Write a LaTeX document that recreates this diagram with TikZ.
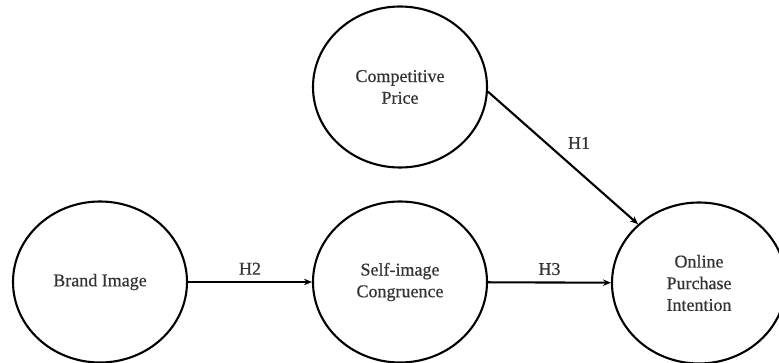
\documentclass[tikz,border=0pt]{standalone}
\usepackage{fontspec}
\newfontfamily\lblfont{Liberation Serif}[FakeBold=0.5]
\usetikzlibrary{shapes.geometric,arrows.meta}
\begin{document}
\begin{tikzpicture}[x=1pt,y=-1pt,
  construct/.style={ellipse,draw,line width=2.1pt,minimum width=174pt,minimum height=161pt,inner sep=0pt,align=center,font=\lblfont\fontsize{18}{21.7}\selectfont,text=black!80},
  link/.style={line width=2.1pt,-{Stealth[length=8pt,width=6.5pt]}},
  hlabel/.style={font=\lblfont\fontsize{18}{20}\selectfont,text=black!80}]
\useasboundingbox (0,0) rectangle (779,363);
\node[construct] (bi) at (100,282) {Brand Image};
\node[construct] (sc) at (400,282) {Self-image\\Congruence};
\node[construct] (cp) at (400,87) {Competitive\\Price};
\node[construct] (op) at (699,283) {Online\\Purchase\\Intention};
\draw[link] (bi) -- (sc) node[hlabel,midway,above=3pt] (h2) {H2};
\draw[link] (sc) -- (op) node[hlabel,midway,above=3pt] (h3) {H3};
\draw[link] (cp.-3) -- (op.136);
\node[hlabel] (h1) at (579,143) {H1};
\end{tikzpicture}
\end{document}
